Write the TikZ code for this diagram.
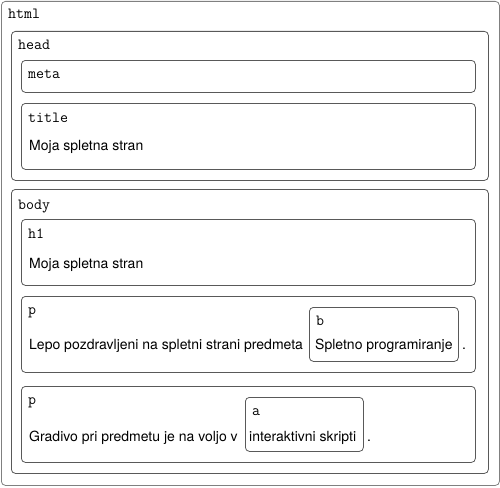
\documentclass[tikz,border=0pt]{standalone}
\usepackage{fontspec}
\setmainfont{TeX Gyre Heros}
\usetikzlibrary{positioning}

\begin{document}
\begin{tikzpicture}[
    x=1pt, y=-1pt,
    okvir/.style={
        draw=black!65,
        line width=0.8pt,
        rounded corners=4pt,
        anchor=north west,
        inner sep=0pt
    },
    oznaka/.style={anchor=base west, inner sep=0pt, font=\fontsize{15.5}{17}\ttfamily},
    besedilo/.style={anchor=base west, inner sep=0pt, font=\fontsize{14}{16}\selectfont}
]
\useasboundingbox (0,0) rectangle (500,487);

% okvirji
\node[okvir, draw=black!50, minimum width=498pt, minimum height=484pt] (html) at (1,1) {};
\node[okvir, minimum width=477pt, minimum height=149pt] (head) at (11,31) {};
\node[okvir, minimum width=454pt, minimum height=32pt] (meta) at (21,60) {};
\node[okvir, minimum width=454pt, minimum height=66pt] (title) at (21,103) {};
\node[okvir, minimum width=477pt, minimum height=284pt] (body) at (11,189) {};
\node[okvir, minimum width=454pt, minimum height=66pt] (naslov) at (21,219) {};
\node[okvir, minimum width=454pt, minimum height=76pt] (prvi) at (21,296) {};
\node[okvir, minimum width=454pt, minimum height=76pt] (drugi) at (21,386) {};
\node[okvir, minimum width=149pt, minimum height=54pt] (krepko) at (309,307) {};
\node[okvir, minimum width=118pt, minimum height=54pt] (povezava) at (245,397) {};

% oznake
\node[oznaka] (htmlT) at ([shift={(7,18)}]html.north west) {html};
\node[oznaka] (headT) at ([shift={(7,19)}]head.north west) {head};
\node[oznaka] (metaT) at ([shift={(7,18)}]meta.north west) {meta};
\node[oznaka] (titleT) at ([shift={(7,19)}]title.north west) {title};
\node[besedilo] (titleB) at ([shift={(8,47)}]title.north west) {Moja spletna stran};
\node[oznaka] (bodyT) at ([shift={(7,20)}]body.north west) {body};
\node[oznaka] (naslovT) at ([shift={(7,19)}]naslov.north west) {h1};
\node[besedilo] (naslovB) at ([shift={(8,49)}]naslov.north west) {Moja spletna stran};

\node[oznaka] (prviT) at ([shift={(7,18)}]prvi.north west) {p};
\node[besedilo] (prviB) at ([shift={(8,53)}]prvi.north west) {Lepo pozdravljeni na spletni strani predmeta};
\node[oznaka] (krepkoT) at ([shift={(7,18)}]krepko.north west) {b};
\node[besedilo] (krepkoB) at ([shift={(6,42)}]krepko.north west) {Spletno programiranje};
\node[besedilo] (prviP) at ([shift={(3,42)}]krepko.north east) {.};

\node[oznaka] (drugiT) at ([shift={(7,18)}]drugi.north west) {p};
\node[besedilo] (drugiB) at ([shift={(8,55)}]drugi.north west) {Gradivo pri predmetu je na voljo v};
\node[oznaka] (povezavaT) at ([shift={(7,18)}]povezava.north west) {a};
\node[besedilo] (povezavaB) at ([shift={(4,44)}]povezava.north west) {interaktivni skripti};
\node[besedilo] (drugiP) at ([shift={(3,44)}]povezava.north east) {.};

\end{tikzpicture}
\end{document}
